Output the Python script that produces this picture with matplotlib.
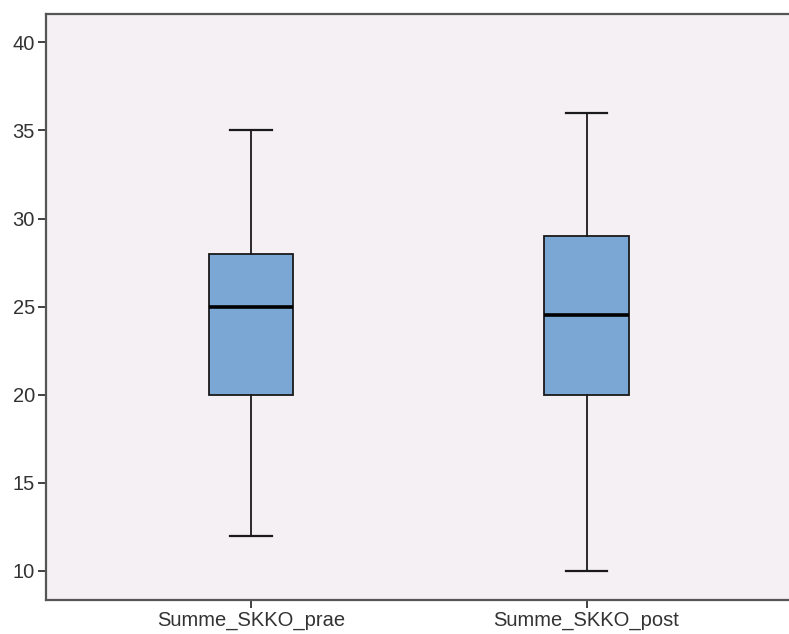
import matplotlib
matplotlib.use("Agg")
import matplotlib.pyplot as plt

categories = ["Summe_SKKO_prae", "Summe_SKKO_post"]
whisker_low = [12, 10]
q1 = [20, 20]
median = [25, 24.5]
q3 = [28, 29]
whisker_high = [35, 36]
yticks = [10, 15, 20, 25, 30, 35, 40]

plt.rcParams['font.family'] = ['Liberation Sans', 'DejaVu Sans']

fig = plt.figure(figsize=(7.89, 6.34), dpi=100)
ax = fig.add_axes([46/789, 1-600/634, (795-46)/789, (600-13.5)/634])
ax.set_facecolor('#F4F0F4')

stats = []
for i, c in enumerate(categories):
    stats.append(dict(label=c, whislo=whisker_low[i], q1=q1[i], med=median[i],
                      q3=q3[i], whishi=whisker_high[i], fliers=[]))

ax.bxp(stats, positions=[1, 2], widths=0.253, patch_artist=True, showfliers=False,
       boxprops=dict(facecolor='#7BA7D4', edgecolor='#1a1a1a', linewidth=1.3),
       medianprops=dict(color='black', linewidth=2.6),
       whiskerprops=dict(color='#1a1a1a', linewidth=1.3),
       capprops=dict(color='#1a1a1a', linewidth=1.6),
       capwidths=0.125)

ax.set_xlim(1 - 205/335.5, 2 + (795-586.5)/335.5)
ax.set_ylim(10 - 29/17.62, 40 + 28.8/17.62)
ax.set_yticks(yticks)
ax.set_yticklabels([str(t) for t in yticks])

for s in ax.spines.values():
    s.set_color('#555555')
    s.set_linewidth(1.6)
ax.spines['right'].set_visible(False)

ax.tick_params(axis='both', colors='#333333', labelsize=14.5, length=6, width=1.3,
               direction='out', pad=2)
ax.tick_params(axis='x', pad=2)

fig.savefig('out.png', dpi=100, facecolor='white')
